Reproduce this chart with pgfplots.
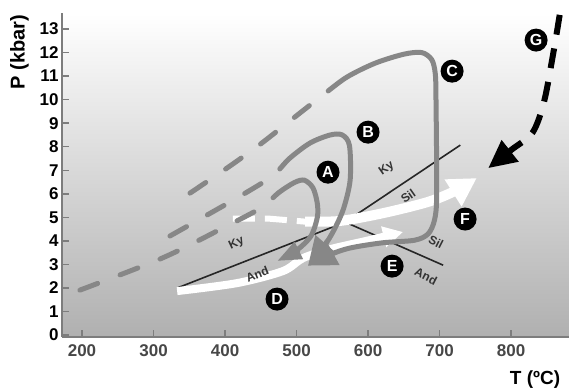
\documentclass[border=0pt]{standalone}
\usepackage{fontspec}
\setmainfont{Liberation Sans}
\usepackage{pgfplots}
\pgfplotsset{compat=1.18}
\usetikzlibrary{arrows.meta}
\definecolor{curve}{RGB}{135,135,135}
\definecolor{bgbot}{RGB}{176,176,176}
\definecolor{axisgray}{RGB}{125,125,125}
\begin{document}
\begin{tikzpicture}
\begin{axis}[
  scale only axis, width=507pt, height=324pt,
  xmin=172, xmax=881, ymin=-0.08, ymax=13.68,
  axis x line=bottom, axis y line=left,
  axis line style={-, draw=axisgray, line width=1.8pt},
  axis background/.style={top color=white, bottom color=bgbot},
  xtick={200,300,...,800}, ytick={0,1,...,13},
  tick align=inside,
  major tick length=7pt,
  tick style={draw=axisgray, line width=1.5pt},
  /pgf/number format/assume math mode=true,
  x tick label style={font=\bfseries\fontsize{17}{17}\selectfont, text=black!72, yshift=-4pt},
  y tick label style={font=\bfseries\fontsize{17}{17}\selectfont},
  clip=false,
  axis on top,
]
% reaction lines
\addplot[black!85, line width=1.6pt] coordinates {(333,2.0)(568,4.8)};
\addplot[black!85, line width=1.6pt] coordinates {(568,4.8)(729,8.07)};
\addplot[black!85, line width=1.6pt] coordinates {(568,4.8)(705,2.97)};
% white arrows
\addplot[white, line width=8pt, smooth, -{Triangle[length=20pt,width=20pt]}] coordinates {(333,1.87)(417,2.21)(481,2.72)(509,3.27)(547,3.65)(603,4.04)(649,4.38)};
\addplot[white, line width=6pt, dash pattern=on 22pt off 10pt] coordinates {(411,4.95)(460,4.95)(512,4.82)};
\addplot[white, line width=10pt, smooth, -{Triangle[length=28pt,width=30pt]}] coordinates {(512,4.82)(561,4.85)(621,5.18)(683,5.65)(720,6.1)(752,6.67)};
% path A
\addplot[curve, line width=5pt, line cap=round, smooth,
  dash pattern=on 19pt off 24pt on 19pt off 24pt on 19pt off 24pt on 19pt off 24pt on 19pt off 24pt on 3000pt off 1pt,
  -{Triangle[length=24pt,width=18pt]}] coordinates {(197,1.91)(312,3.27)(397,4.55)(450,5.4)(475,6.05)(497,6.48)(511,6.58)(523,6.25)(529,5.6)(529,5.0)(520,4.2)(500,3.6)(473,3.15)};
% path B
\addplot[curve, line width=5pt, line cap=round, smooth,
  dash pattern=on 19pt off 24pt on 19pt off 24pt on 19pt off 24pt on 3000pt off 1pt,
  -{Triangle[length=28pt,width=28pt]}] coordinates {(323,4.21)(365,4.93)(421,5.90)(466,6.75)(490,7.5)(519,8.16)(547,8.50)(564,8.5)(574,8.05)(575,6.6)(566,5.4)(553,4.5)(538,3.75)(516,2.95)};
% path C
\addplot[curve, line width=5pt, line cap=round, smooth,
  dash pattern=on 19pt off 24pt on 19pt off 24pt on 19pt off 24pt on 19pt off 24pt on 3000pt off 1pt,
  -{Triangle[length=28pt,width=28pt]}] coordinates {(351,6.03)(403,7.1)(449,8.1)(495,9.2)(535,10.15)(570,10.95)(610,11.55)(650,11.93)(675,12.0)(689,11.7)(694,11.1)(695,10)(696,6)(693,4.9)(684,4.3)(665,4.03)(620,3.92)(575,3.7)(545,3.4)(516,2.95)};
% path G
\addplot[black, line width=6pt, dash pattern=on 20pt off 14pt, smooth, -{Triangle[length=28pt,width=26pt]}] coordinates {(868,13.6)(858,11.8)(846,9.9)(830,8.6)(800,7.86)(768,7.09)};
% reaction labels
\tikzset{rl/.style={font=\bfseries\fontsize{12}{12}\selectfont, text=black!80, inner sep=0pt}}
\node[rl, rotate=25] at (axis cs:416,3.9) {Ky};
\node[rl, rotate=22] at (axis cs:445,2.6) {And};
\node[rl, rotate=35] at (axis cs:626,7.05) {Ky};
\node[rl, rotate=35] at (axis cs:656,5.9) {Sil};
\node[rl, rotate=-27] at (axis cs:695,3.95) {Sil};
\node[rl, rotate=-27] at (axis cs:681,2.5) {And};
% circled letters
\tikzset{cl/.style={circle, fill=black, text=white, inner sep=0pt, minimum size=23pt, font=\bfseries\fontsize{16}{16}\selectfont}}
\node[cl] at (axis cs:544,6.92) {A};
\node[cl] at (axis cs:600,8.62) {B};
\node[cl] at (axis cs:717.5,11.21) {C};
\node[cl] at (axis cs:472.7,1.53) {D};
\node[cl] at (axis cs:633.6,2.93) {E};
\node[cl] at (axis cs:735.7,4.93) {F};
\node[cl] at (axis cs:835,12.53) {G};
\end{axis}
\node[rotate=90, font=\bfseries\fontsize{20}{20}\selectfont] at (-42.5pt,285pt) {P (kbar)};
\node[font=\bfseries\fontsize{19}{19}\selectfont] at (473pt,-43pt) {T (ºC)};
\pgfresetboundingbox
\path (-62pt,-52pt) rectangle (507pt,337pt);
\end{tikzpicture}
\end{document}
